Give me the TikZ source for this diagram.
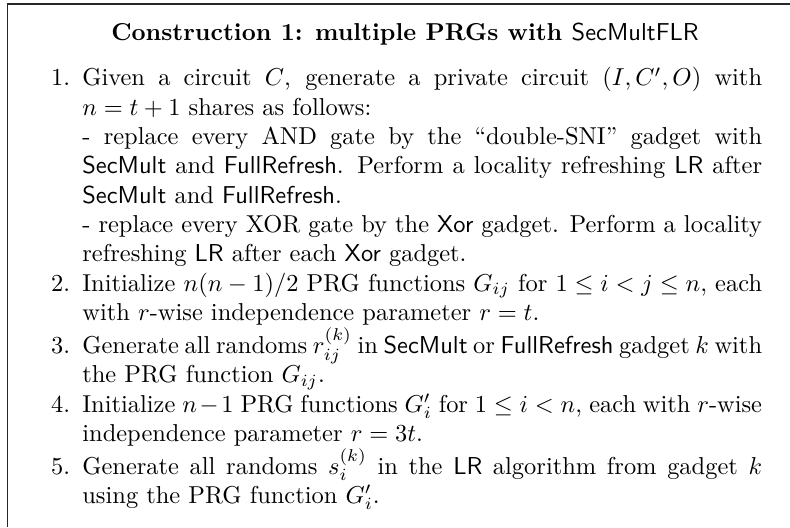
\documentclass[tikz,border=0pt]{standalone}
\begin{document}
\begin{tikzpicture}[x=0.409pt,y=-0.409pt,
  frameline/.style={line width=0.45pt,draw=black!85},
  titlebox/.style={inner sep=0pt,anchor=base,font=\bfseries},
  bodybox/.style={inner sep=0pt,anchor=north west}]
\useasboundingbox (0,0) rectangle (790,527);
\coordinate (bl) at (7.5,527);
\coordinate (tl) at (7.5,4);
\coordinate (tr) at (790,4);
\draw[frameline] (bl) -- (tl) -- (tr);
\node[titlebox] (title) at (405,40) {Construction 1: multiple PRGs with \textsf{\mdseries SecMultFLR}};
\node[bodybox] (body) at (33,67) {\begin{minipage}{298pt}
\begin{list}{\arabic{enumi}.}{\usecounter{enumi}\setlength\leftmargin{20pt}\setlength\labelwidth{15pt}\setlength\labelsep{5pt}\setlength\itemindent{0pt}\setlength\itemsep{0pt}\setlength\parsep{0pt}\setlength\topsep{0pt}\setlength\partopsep{0pt}\setlength\rightmargin{0pt}}
\item Given a circuit $C$, generate a private circuit $(I,C',O)$ with\linebreak
$n=t+1$ shares as follows:\newline
- replace every AND gate by the ``double-SNI'' gadget with\linebreak
\textsf{SecMult} and \textsf{FullRefresh}. Perform a locality refreshing \textsf{LR} after\linebreak
\textsf{SecMult} and \textsf{FullRefresh}.\newline
- replace every XOR gate by the \textsf{Xor} gadget. Perform a locality\linebreak
refreshing \textsf{LR} after each \textsf{Xor} gadget.
\item Initialize $n(n-1)/2$ PRG functions $G_{ij}$ for $1\le i<j\le n$, each\linebreak
with $r$-wise independence parameter $r=t$.
\item Generate all randoms $r_{ij}^{(k)}$ in \textsf{SecMult} or \textsf{FullRefresh} gadget $k$ with\linebreak
the PRG function $G_{ij}$.
\item Initialize $n-1$ PRG functions $G'_i$ for $1\le i<n$, each with $r$-wise\linebreak
independence parameter $r=3t$.
\item Generate all randoms $s_i^{(k)}$ in the \textsf{LR} algorithm from gadget $k$\linebreak
using the PRG function $G'_i$.
\end{list}
\end{minipage}};
\end{tikzpicture}
\end{document}
